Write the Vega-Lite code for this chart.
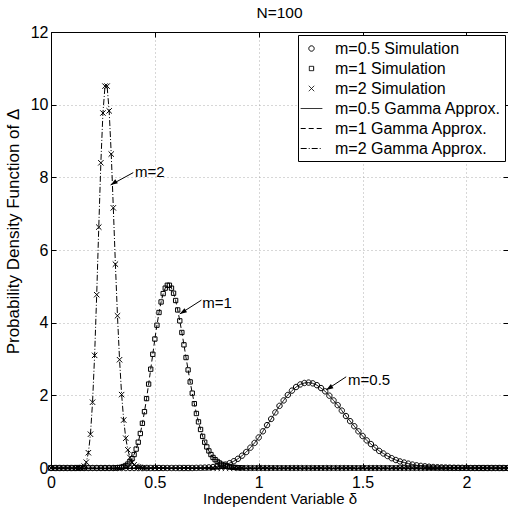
{
  "$schema": "https://vega.github.io/schema/vega-lite/v6.json",
  "width": 457,
  "height": 436,
  "autosize": {"type": "none"},
  "padding": {"left": 51, "top": 32, "right": 0, "bottom": 42},
  "background": "white",
  "title": {"text": "N=100", "fontSize": 15.5, "fontWeight": "normal", "offset": 3, "color": "black"},
  "config": {
    "font": "Liberation Sans",
    "view": {"stroke": "black", "strokeWidth": 1},
    "axis": {"domainColor": "black", "tickColor": "black", "labelColor": "black", "titleColor": "black", "labelFontSize": 16, "titleFontSize": 15, "titleFontWeight": "normal", "gridColor": "#999999", "gridDash": [1, 3], "gridWidth": 0.8, "tickSize": -5, "labelPadding": 8, "labelFlush": false, "format": "~g"},
    "legend": {"orient": "top-right", "offset": 3, "padding": 4, "strokeColor": "black", "fillColor": "white", "labelFontSize": 16, "labelLimit": 300, "labelColor": "black", "symbolSize": 324, "symbolStrokeWidth": 1, "symbolStrokeColor": "black", "rowPadding": 2, "labelOffset": 14, "cornerRadius": 0, "strokeWidth": 1}
  },
  "datasets": {
    "m2": [
      {"x":0,"y":0},{"x":0.02,"y":0},{"x":0.04,"y":0},{"x":0.06,"y":0},{"x":0.08,"y":0},{"x":0.1,"y":0},{"x":0.12,"y":0},{"x":0.13,"y":0},
      {"x":0.14,"y":0.003},{"x":0.15,"y":0.014},{"x":0.16,"y":0.052},{"x":0.17,"y":0.16},{"x":0.18,"y":0.42},{"x":0.19,"y":0.93},{"x":0.2,"y":1.81},{"x":0.21,"y":3.1},{"x":0.22,"y":4.77},{"x":0.23,"y":6.63},{"x":0.24,"y":8.4},{"x":0.25,"y":9.77},{"x":0.26,"y":10.51},{"x":0.27,"y":10.51},{"x":0.28,"y":9.83},{"x":0.29,"y":8.64},{"x":0.3,"y":7.16},{"x":0.31,"y":5.61},{"x":0.32,"y":4.19},{"x":0.33,"y":2.98},{"x":0.34,"y":2.02},{"x":0.35,"y":1.32},{"x":0.36,"y":0.82},{"x":0.37,"y":0.5},{"x":0.38,"y":0.29},{"x":0.39,"y":0.16},{"x":0.4,"y":0.088},{"x":0.41,"y":0.047},{"x":0.42,"y":0.024},{"x":0.43,"y":0.012},{"x":0.44,"y":0.006},{"x":0.45,"y":0.003},{"x":0.46,"y":0},
      {"x":0.48,"y":0},{"x":0.5,"y":0},{"x":0.52,"y":0},{"x":0.54,"y":0},{"x":0.56,"y":0},{"x":0.58,"y":0},{"x":0.6,"y":0},{"x":0.62,"y":0},{"x":0.64,"y":0},{"x":0.66,"y":0},{"x":0.68,"y":0},{"x":0.7,"y":0},{"x":0.72,"y":0},{"x":0.74,"y":0},{"x":0.76,"y":0},{"x":0.78,"y":0},{"x":0.8,"y":0},{"x":0.82,"y":0},{"x":0.84,"y":0},{"x":0.86,"y":0},{"x":0.88,"y":0},{"x":0.9,"y":0},{"x":0.92,"y":0},{"x":0.94,"y":0},{"x":0.96,"y":0},{"x":0.98,"y":0},{"x":1,"y":0},{"x":1.02,"y":0},{"x":1.04,"y":0},{"x":1.06,"y":0},{"x":1.08,"y":0},{"x":1.1,"y":0},{"x":1.12,"y":0},{"x":1.14,"y":0},{"x":1.16,"y":0},{"x":1.18,"y":0},{"x":1.2,"y":0},{"x":1.22,"y":0},{"x":1.24,"y":0},{"x":1.26,"y":0},{"x":1.28,"y":0},{"x":1.3,"y":0},{"x":1.32,"y":0},{"x":1.34,"y":0},{"x":1.36,"y":0},{"x":1.38,"y":0},{"x":1.4,"y":0},{"x":1.42,"y":0},{"x":1.44,"y":0},{"x":1.46,"y":0},{"x":1.48,"y":0},{"x":1.5,"y":0},{"x":1.52,"y":0},{"x":1.54,"y":0},{"x":1.56,"y":0},{"x":1.58,"y":0},{"x":1.6,"y":0},{"x":1.62,"y":0},{"x":1.64,"y":0},{"x":1.66,"y":0},{"x":1.68,"y":0},{"x":1.7,"y":0},{"x":1.72,"y":0},{"x":1.74,"y":0},{"x":1.76,"y":0},{"x":1.78,"y":0},{"x":1.8,"y":0},{"x":1.82,"y":0},{"x":1.84,"y":0},{"x":1.86,"y":0},{"x":1.88,"y":0},{"x":1.9,"y":0},{"x":1.92,"y":0},{"x":1.94,"y":0},{"x":1.96,"y":0},{"x":1.98,"y":0},{"x":2,"y":0},{"x":2.02,"y":0},{"x":2.04,"y":0},{"x":2.06,"y":0},{"x":2.08,"y":0},{"x":2.1,"y":0},{"x":2.12,"y":0},{"x":2.14,"y":0},{"x":2.16,"y":0},{"x":2.18,"y":0},{"x":2.2,"y":0}
    ],
    "m1": [
      {"x":0,"y":0},{"x":0.02,"y":0},{"x":0.04,"y":0},{"x":0.06,"y":0},{"x":0.08,"y":0},{"x":0.1,"y":0},{"x":0.12,"y":0},{"x":0.14,"y":0},{"x":0.16,"y":0},{"x":0.18,"y":0},{"x":0.2,"y":0},{"x":0.22,"y":0},{"x":0.24,"y":0},{"x":0.26,"y":0},{"x":0.28,"y":0},{"x":0.3,"y":0},
      {"x":0.31,"y":0.003},{"x":0.32,"y":0.007},{"x":0.33,"y":0.013},{"x":0.34,"y":0.023},{"x":0.35,"y":0.041},{"x":0.36,"y":0.068},{"x":0.37,"y":0.109},{"x":0.38,"y":0.17},{"x":0.39,"y":0.255},{"x":0.4,"y":0.37},{"x":0.41,"y":0.52},{"x":0.42,"y":0.71},{"x":0.43,"y":0.95},{"x":0.44,"y":1.23},{"x":0.45,"y":1.55},{"x":0.46,"y":1.91},{"x":0.47,"y":2.31},{"x":0.48,"y":2.72},{"x":0.49,"y":3.13},{"x":0.5,"y":3.55},{"x":0.51,"y":3.93},{"x":0.52,"y":4.28},{"x":0.53,"y":4.57},{"x":0.54,"y":4.8},{"x":0.55,"y":4.95},{"x":0.56,"y":5.03},{"x":0.57,"y":5.03},{"x":0.58,"y":4.95},{"x":0.59,"y":4.81},{"x":0.6,"y":4.61},{"x":0.61,"y":4.35},{"x":0.62,"y":4.05},{"x":0.63,"y":3.73},{"x":0.64,"y":3.39},{"x":0.65,"y":3.04},{"x":0.66,"y":2.7},{"x":0.67,"y":2.37},{"x":0.68,"y":2.06},{"x":0.69,"y":1.77},{"x":0.7,"y":1.5},{"x":0.71,"y":1.27},{"x":0.72,"y":1.06},{"x":0.73,"y":0.87},{"x":0.74,"y":0.71},{"x":0.75,"y":0.58},{"x":0.76,"y":0.47},{"x":0.77,"y":0.37},{"x":0.78,"y":0.29},{"x":0.79,"y":0.23},{"x":0.8,"y":0.18},{"x":0.81,"y":0.14},{"x":0.82,"y":0.106},{"x":0.83,"y":0.08},{"x":0.84,"y":0.06},{"x":0.85,"y":0.045},{"x":0.86,"y":0.033},{"x":0.87,"y":0.024},{"x":0.88,"y":0.017},{"x":0.89,"y":0.012},{"x":0.9,"y":0.009},{"x":0.91,"y":0.006},{"x":0.92,"y":0.004},
      {"x":0.94,"y":0},{"x":0.96,"y":0},{"x":0.98,"y":0},{"x":1,"y":0},{"x":1.02,"y":0},{"x":1.04,"y":0},{"x":1.06,"y":0},{"x":1.08,"y":0},{"x":1.1,"y":0},{"x":1.12,"y":0},{"x":1.14,"y":0},{"x":1.16,"y":0},{"x":1.18,"y":0},{"x":1.2,"y":0},{"x":1.22,"y":0},{"x":1.24,"y":0},{"x":1.26,"y":0},{"x":1.28,"y":0},{"x":1.3,"y":0},{"x":1.32,"y":0},{"x":1.34,"y":0},{"x":1.36,"y":0},{"x":1.38,"y":0},{"x":1.4,"y":0},{"x":1.42,"y":0},{"x":1.44,"y":0},{"x":1.46,"y":0},{"x":1.48,"y":0},{"x":1.5,"y":0},{"x":1.52,"y":0},{"x":1.54,"y":0},{"x":1.56,"y":0},{"x":1.58,"y":0},{"x":1.6,"y":0},{"x":1.62,"y":0},{"x":1.64,"y":0},{"x":1.66,"y":0},{"x":1.68,"y":0},{"x":1.7,"y":0},{"x":1.72,"y":0},{"x":1.74,"y":0},{"x":1.76,"y":0},{"x":1.78,"y":0},{"x":1.8,"y":0},{"x":1.82,"y":0},{"x":1.84,"y":0},{"x":1.86,"y":0},{"x":1.88,"y":0},{"x":1.9,"y":0},{"x":1.92,"y":0},{"x":1.94,"y":0},{"x":1.96,"y":0},{"x":1.98,"y":0},{"x":2,"y":0},{"x":2.02,"y":0},{"x":2.04,"y":0},{"x":2.06,"y":0},{"x":2.08,"y":0},{"x":2.1,"y":0},{"x":2.12,"y":0},{"x":2.14,"y":0},{"x":2.16,"y":0},{"x":2.18,"y":0},{"x":2.2,"y":0}
    ],
    "m05": [
      {"x":0,"y":0},{"x":0.02,"y":0},{"x":0.04,"y":0},{"x":0.06,"y":0},{"x":0.08,"y":0},{"x":0.1,"y":0},{"x":0.12,"y":0},{"x":0.14,"y":0},{"x":0.16,"y":0},{"x":0.18,"y":0},{"x":0.2,"y":0},{"x":0.22,"y":0},{"x":0.24,"y":0},{"x":0.26,"y":0},{"x":0.28,"y":0},{"x":0.3,"y":0},{"x":0.32,"y":0},{"x":0.34,"y":0},{"x":0.36,"y":0},{"x":0.38,"y":0},{"x":0.4,"y":0},{"x":0.42,"y":0},{"x":0.44,"y":0},{"x":0.46,"y":0},{"x":0.48,"y":0},{"x":0.5,"y":0},{"x":0.52,"y":0},{"x":0.54,"y":0},{"x":0.56,"y":0},{"x":0.58,"y":0},{"x":0.6,"y":0},{"x":0.62,"y":0},{"x":0.64,"y":0},{"x":0.66,"y":0},{"x":0.68,"y":0},
      {"x":0.7,"y":0.003},{"x":0.72,"y":0.006},{"x":0.74,"y":0.01},{"x":0.76,"y":0.016},{"x":0.78,"y":0.027},{"x":0.8,"y":0.042},{"x":0.82,"y":0.064},{"x":0.84,"y":0.094},{"x":0.86,"y":0.134},{"x":0.88,"y":0.187},{"x":0.9,"y":0.254},{"x":0.92,"y":0.34},{"x":0.94,"y":0.44},{"x":0.96,"y":0.56},{"x":0.98,"y":0.69},{"x":1,"y":0.84},{"x":1.02,"y":1.01},{"x":1.04,"y":1.18},{"x":1.06,"y":1.35},{"x":1.08,"y":1.53},{"x":1.1,"y":1.71},{"x":1.12,"y":1.86},{"x":1.14,"y":2.01},{"x":1.16,"y":2.13},{"x":1.18,"y":2.23},{"x":1.2,"y":2.3},{"x":1.22,"y":2.34},{"x":1.24,"y":2.35},{"x":1.26,"y":2.33},{"x":1.28,"y":2.28},{"x":1.3,"y":2.2},{"x":1.32,"y":2.11},{"x":1.34,"y":1.99},{"x":1.36,"y":1.86},{"x":1.38,"y":1.73},{"x":1.4,"y":1.58},{"x":1.42,"y":1.43},{"x":1.44,"y":1.29},{"x":1.46,"y":1.15},{"x":1.48,"y":1.01},{"x":1.5,"y":0.88},{"x":1.52,"y":0.76},{"x":1.54,"y":0.66},{"x":1.56,"y":0.56},{"x":1.58,"y":0.47},{"x":1.6,"y":0.4},{"x":1.62,"y":0.33},{"x":1.64,"y":0.27},{"x":1.66,"y":0.22},{"x":1.68,"y":0.18},{"x":1.7,"y":0.15},{"x":1.72,"y":0.12},{"x":1.74,"y":0.094},{"x":1.76,"y":0.074},{"x":1.78,"y":0.058},{"x":1.8,"y":0.046},{"x":1.82,"y":0.035},{"x":1.84,"y":0.027},{"x":1.86,"y":0.021},{"x":1.88,"y":0.016},{"x":1.9,"y":0.012},{"x":1.92,"y":0.009},{"x":1.94,"y":0.007},{"x":1.96,"y":0.005},{"x":1.98,"y":0.004},{"x":2,"y":0.003},
      {"x":2.02,"y":0},{"x":2.04,"y":0},{"x":2.06,"y":0},{"x":2.08,"y":0},{"x":2.1,"y":0},{"x":2.12,"y":0},{"x":2.14,"y":0},{"x":2.16,"y":0},{"x":2.18,"y":0},{"x":2.2,"y":0}
    ],
    "ann": [
      {"label": "m=2", "x": 0.396, "y": 8.13, "x2": 0.287, "y2": 7.79, "tx": 0.404, "ty": 8.15},
      {"label": "m=1", "x": 0.724, "y": 4.62, "x2": 0.62, "y2": 4.24, "tx": 0.728, "ty": 4.53},
      {"label": "m=0.5", "x": 1.421, "y": 2.51, "x2": 1.325, "y2": 2.15, "tx": 1.43, "ty": 2.42}
    ]
  },
  "resolve": {"axis": {"x": "independent", "y": "independent"}},
  "layer": [
    {
      "data": {"name": "m05"},
      "mark": {"type": "point", "filled": false, "color": "black", "strokeWidth": 1, "size": 324, "opacity": 1},
      "encoding": {
        "x": {"field": "x", "type": "quantitative", "scale": {"domain": [0, 2.2], "nice": false, "zero": false},
              "axis": {"values": [0, 0.5, 1, 1.5, 2], "grid": true, "title": "Independent Variable δ", "titlePadding": 1, "labelPadding": 11}},
        "y": {"field": "y", "type": "quantitative", "scale": {"domain": [0, 12], "nice": false},
              "axis": {"values": [0, 2, 4, 6, 8, 10, 12], "grid": true, "title": "Probability Density Function of Δ", "titlePadding": 8, "titleFontSize": 17, "titleY": 199}},
        "shape": {"datum": "m=0.5 Simulation",
                  "scale": {"domain": ["m=0.5 Simulation", "m=1 Simulation", "m=2 Simulation", "m=0.5 Gamma Approx.", "m=1 Gamma Approx.", "m=2 Gamma Approx."],
                            "range": ["M-0.3,0A0.3,0.3,0,1,0,0.3,0A0.3,0.3,0,1,0,-0.3,0Z", "M-0.24,-0.24H0.24V0.24H-0.24Z", "M-0.3,-0.3L0.3,0.3M-0.3,0.3L0.3,-0.3", "M-1.2,0H1.2", "M-1.2,0H1.2", "M-1.2,0H1.2"]},
                  "legend": {"title": null}}
      }
    },
    {
      "data": {"name": "m1"},
      "mark": {"type": "point", "filled": false, "color": "black", "strokeWidth": 1, "size": 324, "opacity": 1},
      "encoding": {
        "x": {"field": "x", "type": "quantitative", "axis": {"orient": "top", "values": [0, 0.5, 1, 1.5, 2], "labels": false, "grid": false, "title": null}},
        "y": {"field": "y", "type": "quantitative", "axis": {"orient": "right", "values": [0, 2, 4, 6, 8, 10, 12], "labels": false, "grid": false, "title": null}},
        "shape": {"datum": "m=1 Simulation"}
      }
    },
    {
      "data": {"name": "m2"},
      "mark": {"type": "point", "filled": false, "color": "black", "strokeWidth": 1, "size": 324, "opacity": 1},
      "encoding": {
        "x": {"field": "x", "type": "quantitative", "axis": null},
        "y": {"field": "y", "type": "quantitative", "axis": null},
        "shape": {"datum": "m=2 Simulation"}
      }
    },
    {
      "data": {"name": "m05"},
      "mark": {"type": "line", "color": "black", "strokeWidth": 1},
      "encoding": {
        "x": {"field": "x", "type": "quantitative", "axis": null},
        "y": {"field": "y", "type": "quantitative", "axis": null},
        "strokeDash": {"datum": "m=0.5 Gamma Approx.",
                       "scale": {"domain": ["m=0.5 Simulation", "m=1 Simulation", "m=2 Simulation", "m=0.5 Gamma Approx.", "m=1 Gamma Approx.", "m=2 Gamma Approx."],
                                 "range": [[1, 0], [1, 0], [1, 0], [1, 0], [5, 3], [6, 2, 1, 2]]},
                       "legend": {"title": null}}
      }
    },
    {
      "data": {"name": "m1"},
      "mark": {"type": "line", "color": "black", "strokeWidth": 1},
      "encoding": {
        "x": {"field": "x", "type": "quantitative", "axis": null},
        "y": {"field": "y", "type": "quantitative", "axis": null},
        "strokeDash": {"datum": "m=1 Gamma Approx."}
      }
    },
    {
      "data": {"name": "m2"},
      "mark": {"type": "line", "color": "black", "strokeWidth": 1},
      "encoding": {
        "x": {"field": "x", "type": "quantitative", "axis": null},
        "y": {"field": "y", "type": "quantitative", "axis": null},
        "strokeDash": {"datum": "m=2 Gamma Approx."}
      }
    },
    {
      "data": {"name": "ann"},
      "mark": {"type": "rule", "color": "black", "strokeWidth": 1},
      "encoding": {
        "x": {"field": "x", "type": "quantitative", "axis": null},
        "y": {"field": "y", "type": "quantitative", "axis": null},
        "x2": {"field": "x2"},
        "y2": {"field": "y2"}
      }
    },
    {
      "data": {"name": "ann"},
      "mark": {"type": "point", "shape": "M0,0L-0.7,2L0.7,2Z", "size": 49, "angle": 238, "filled": true, "color": "black", "opacity": 1},
      "encoding": {
        "x": {"field": "x2", "type": "quantitative", "axis": null},
        "y": {"field": "y2", "type": "quantitative", "axis": null}
      }
    },
    {
      "data": {"name": "ann"},
      "mark": {"type": "text", "align": "left", "baseline": "middle", "fontSize": 15, "color": "black"},
      "encoding": {
        "x": {"field": "tx", "type": "quantitative", "axis": null},
        "y": {"field": "ty", "type": "quantitative", "axis": null},
        "text": {"field": "label"}
      }
    }
  ]
}
